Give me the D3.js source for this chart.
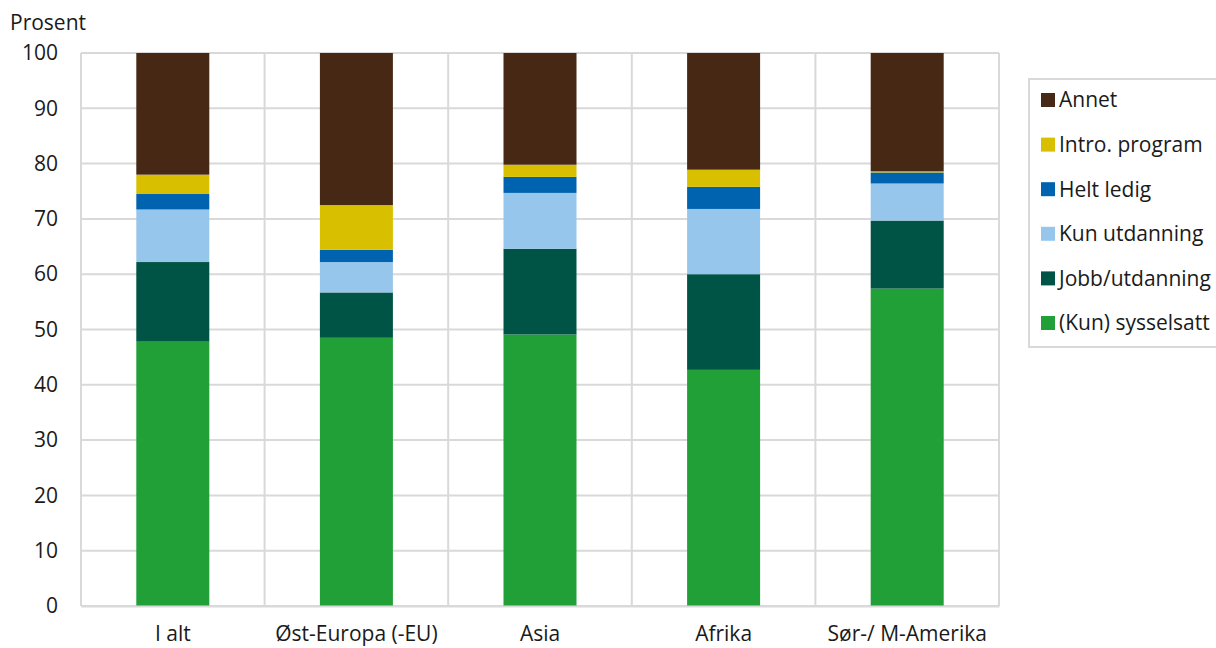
<!DOCTYPE html>
<html><head><meta charset="utf-8">
<script src="https://cdn.jsdelivr.net/npm/d3@7"></script>
<style>
html,body{margin:0;padding:0;background:#fff;}
text{font-family:"Open Sans",sans-serif;fill:#1a1a1a;}
</style></head>
<body><svg id="c" width="1216" height="648"></svg>
<script>
const categories = ["I alt","Øst-Europa (-EU)","Asia","Afrika","Sør-/ M-Amerika"];
const seriesNames = ["(Kun) sysselsatt","Jobb/utdanning","Kun utdanning","Helt ledig","Intro. program","Annet"];
const sysselsatt   = [47.8, 48.5, 49.1, 42.7, 57.4];
const jobbUtd      = [14.4,  8.2, 15.5, 17.3, 12.3];
const kunUtd       = [ 9.5,  5.5, 10.1, 11.8,  6.7];
const heltLedig    = [ 2.8,  2.2,  2.9,  4.0,  2.0];
const introProgram = [ 3.5,  8.1,  2.2,  3.1,  0.2];
const annet        = [22.0, 27.5, 20.2, 21.1, 21.4];
const yTicks = [0,10,20,30,40,50,60,70,80,90,100];
const colors = ["#21a038","#005445","#96c6eb","#0063b0","#d8c000","#472815"];

const seriesVals = [sysselsatt, jobbUtd, kunUtd, heltLedig, introProgram, annet];
const rows = categories.map((c,i)=>{const o={cat:c}; seriesNames.forEach((s,j)=>o[s]=seriesVals[j][i]); return o;});
const stack = d3.stack().keys(seriesNames)(rows);

const svg = d3.select("#c");
const L=81, R=999, T=53, B=606;
const xb = d3.scaleBand().domain(categories).range([L,R]);
const y = d3.scaleLinear().domain([0,100]).range([B,T]);
const FS = "21px";

// horizontal gridlines
svg.append("g").selectAll("line").data(yTicks).join("line")
  .attr("x1",L).attr("x2",R).attr("y1",d=>y(d)).attr("y2",d=>y(d))
  .attr("stroke","#d9d9d9").attr("stroke-width",2);
// vertical gridlines at band boundaries
const bounds = categories.map(c=>xb(c)).concat([R]);
svg.append("g").selectAll("line").data(bounds).join("line")
  .attr("x1",d=>d).attr("x2",d=>d).attr("y1",T).attr("y2",B)
  .attr("stroke","#d9d9d9").attr("stroke-width",2);

// bars
svg.append("g").selectAll("g").data(stack).join("g")
  .attr("fill",(d,i)=>colors[i])
  .selectAll("rect").data(d=>d).join("rect")
  .attr("x",d=>xb(d.data.cat)+xb.bandwidth()/2-36.5)
  .attr("width",73)
  .attr("y",d=>y(d[1])).attr("height",d=>y(d[0])-y(d[1]));

// y axis
const ya = svg.append("g").attr("transform",`translate(${L},0)`)
  .call(d3.axisLeft(y).tickValues(yTicks).tickSize(0).tickPadding(23));
ya.select(".domain").remove();
ya.selectAll("text").style("font-family","'Open Sans',sans-serif").style("font-size",FS).attr("fill","#1a1a1a");

// x axis
const xa = svg.append("g").attr("transform",`translate(0,${B})`)
  .call(d3.axisBottom(xb).tickSize(0).tickPadding(20.5));
xa.select(".domain").attr("stroke","#d9d9d9").attr("stroke-width",2);
xa.selectAll("text").style("font-family","'Open Sans',sans-serif").style("font-size",FS).attr("fill","#1a1a1a");

svg.append("text").attr("x",10).attr("y",30).style("font-size",FS).text("Prosent");

// legend
const lg = svg.append("g");
lg.append("rect").attr("x",1029).attr("y",79).attr("width",200).attr("height",268)
  .attr("fill","#fff").attr("stroke","#d9d9d9").attr("stroke-width",2);
const legendOrder = seriesNames.slice().reverse();
const li = lg.selectAll("g.li").data(legendOrder).join("g").attr("class","li")
  .attr("transform",(d,i)=>`translate(1041,${100+i*44.6})`);
li.append("rect").attr("x",0).attr("y",-7).attr("width",14).attr("height",14)
  .attr("fill",d=>colors[seriesNames.indexOf(d)]);
li.append("text").attr("x",18).attr("y",0).attr("dy","0.35em").style("font-size",FS).text(d=>d);
</script></body></html>
